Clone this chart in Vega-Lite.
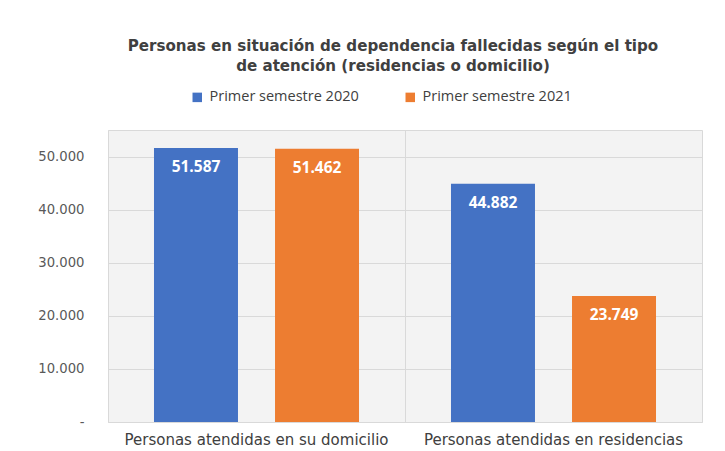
{
  "$schema": "https://vega.github.io/schema/vega-lite/v6.json",
  "width": 594,
  "height": 292,
  "autosize": {"type": "none"},
  "padding": {"left": 108, "top": 130, "right": 23, "bottom": 29},
  "background": "#ffffff",
  "config": {
    "locale": {"number": {"decimal": ",", "thousands": ".", "grouping": [3], "currency": ["", " €"]}},
    "view": {"stroke": "#d9d9d9", "fill": "#f3f3f3"},
    "title": {"font": "DejaVu Sans", "fontSize": 15.1, "fontWeight": "bold", "color": "#404040", "lineHeight": 19.5}
  },
  "title": {"text": ["Personas en situación de dependencia fallecidas según el tipo", "de atención (residencias o domicilio)"], "anchor": "middle", "dx": -12, "offset": 16},
  "data": {
    "values": [
      {"categoria": "Personas atendidas en su domicilio", "serie": "Primer semestre 2020", "valor": 51587},
      {"categoria": "Personas atendidas en su domicilio", "serie": "Primer semestre 2021", "valor": 51462},
      {"categoria": "Personas atendidas en residencias", "serie": "Primer semestre 2020", "valor": 44882},
      {"categoria": "Personas atendidas en residencias", "serie": "Primer semestre 2021", "valor": 23749}
    ]
  },
  "encoding": {
    "x": {
      "field": "categoria", "type": "nominal", "sort": null, "title": null,
      "scale": {"paddingInner": 0, "paddingOuter": 0},
      "axis": {"labelAngle": 0, "labelLimit": 0, "labelFont": "DejaVu Sans", "labelFontSize": 15, "labelColor": "#404040", "ticks": false, "domain": false, "labelPadding": 10, "grid": true, "gridColor": "#d9d9d9", "bandPosition": 0}
    },
    "xOffset": {"field": "serie", "type": "nominal", "scale": {"paddingInner": 0.306, "paddingOuter": 0.38}},
    "y": {
      "field": "valor", "type": "quantitative", "title": null,
      "scale": {"domain": [0, 55000], "nice": false},
      "axis": {"values": [0, 10000, 20000, 30000, 40000, 50000], "format": ",d", "labelExpr": "datum.value === 0 ? '-' : datum.label", "labelFont": "DejaVu Sans", "labelFontSize": 13.2, "labelColor": "#595959", "ticks": false, "domain": false, "labelPadding": 24, "gridColor": "#d9d9d9"}
    }
  },
  "layer": [
    {
      "mark": {"type": "bar"},
      "encoding": {
        "color": {
          "field": "serie", "type": "nominal", "title": null,
          "scale": {"range": ["#4472C4", "#ED7D31"]},
          "legend": {"orient": "none", "legendX": 82, "legendY": -40, "direction": "horizontal", "symbolType": "square", "symbolSize": 90, "symbolStrokeWidth": 0, "labelFont": "Open Sans", "labelFontSize": 14.5, "labelColor": "#404040", "labelOffset": 5, "columnPadding": 44}
        }
      }
    },
    {
      "mark": {"type": "text", "baseline": "middle", "dy": 19, "color": "#ffffff", "font": "Open Sans", "fontWeight": "bold", "fontSize": 15.5},
      "encoding": {"text": {"field": "valor", "type": "quantitative", "format": ",d"}}
    }
  ]
}
